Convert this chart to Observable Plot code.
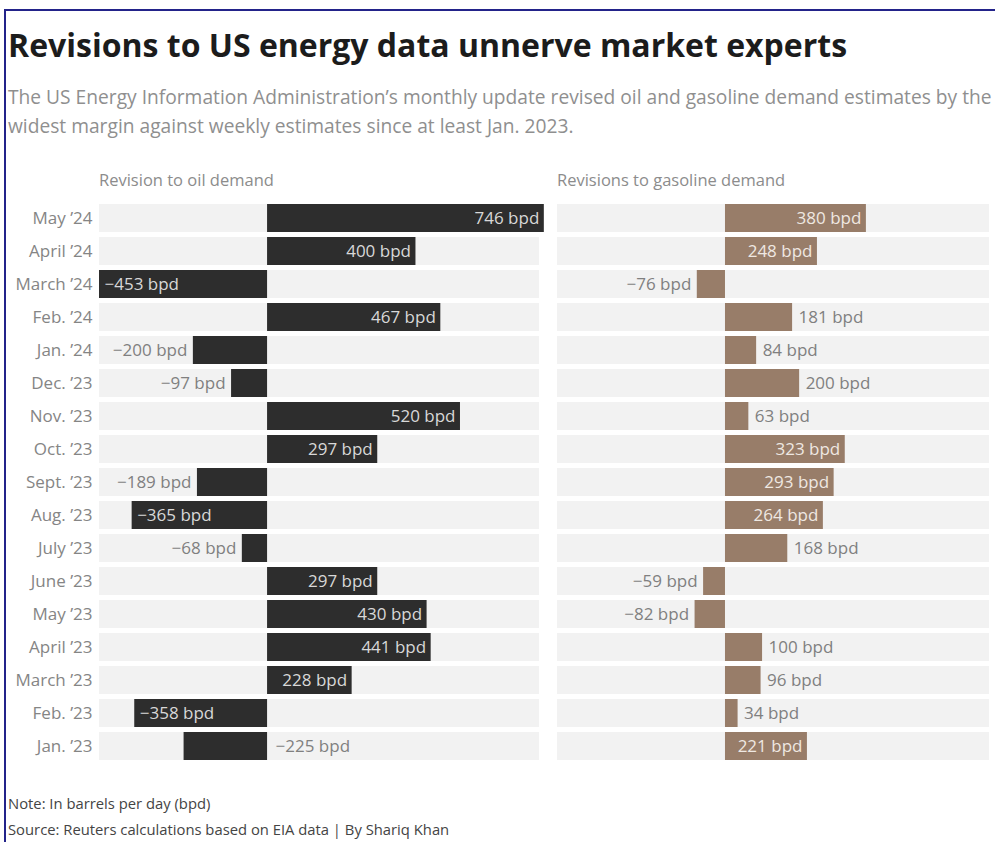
<!DOCTYPE html>
<html>
<head>
<meta charset="utf-8">
<script src="https://cdn.jsdelivr.net/npm/d3@7"></script>
<script src="https://cdn.jsdelivr.net/npm/@observablehq/plot@0.6"></script>
<style>
  html, body { margin: 0; padding: 0; background: #fff; overflow: hidden; }
  #page { position: relative; width: 995px; height: 842px; font-family: "Open Sans", sans-serif; overflow: hidden; }
  #frame { position: absolute; left: 4px; top: 9px; width: 1000px; height: 900px; border-top: 2px solid #23238a; border-left: 2px solid #23238a; }
  .abs { position: absolute; white-space: nowrap; }
  #title { left: 8px; top: 29px; font-size: 32px; line-height: 32px; font-weight: 700; color: #1c1c1c; }
  #subtitle { left: 8px; top: 82px; font-size: 19.2px; line-height: 29px; color: #8f8f8f; }
  .ptitle { top: 169px; font-size: 16.5px; line-height: 22px; color: #8c8c8c; }
  .foot { left: 8px; font-size: 14.8px; line-height: 20px; color: #444; }
  #left, #right { position: absolute; top: 190px; }
  #left { left: 0; }
  #right { left: 550px; }
</style>
</head>
<body>
<div id="page">
  <div id="frame"></div>
  <div id="title" class="abs">Revisions to US energy data unnerve market experts</div>
  <div id="subtitle" class="abs">The US Energy Information Administration’s monthly update revised oil and gasoline demand estimates by the<br>widest margin against weekly estimates since at least Jan. 2023.</div>
  <div class="abs ptitle" style="left:99px">Revision to oil demand</div>
  <div class="abs ptitle" style="left:557px">Revisions to gasoline demand</div>
  <div id="left"></div>
  <div id="right"></div>
  <div class="abs foot" style="top:793px">Note: In barrels per day (bpd)</div>
  <div class="abs foot" style="top:819px">Source: Reuters calculations based on EIA data | By Shariq Khan</div>
</div>
<script>
const months = ["May ’24", "April ’24", "March ’24", "Feb. ’24", "Jan. ’24", "Dec. ’23", "Nov. ’23", "Oct. ’23", "Sept. ’23", "Aug. ’23", "July ’23", "June ’23", "May ’23", "April ’23", "March ’23", "Feb. ’23", "Jan. ’23"];
const oilRevision = [746, 400, -453, 467, -200, -97, 520, 297, -189, -365, -68, 297, 430, 441, 228, -358, -225];
const gasolineRevision = [380, 248, -76, 181, 84, 200, 63, 323, 293, 264, 168, -59, -82, 100, 96, 34, 221];
const oilLabelRightOfZero = ["Jan. ’23"];

const fmt = v => (v < 0 ? "\u2212" + Math.abs(v) : String(v)) + " bpd";

function panel({values, color, insideColor, domain, width, marginLeft, marginRight, showY, rightOfZero}) {
  const data = months.map((m, i) => ({m, v: values[i]}));
  const special = d => rightOfZero.includes(d.m);
  const inside = d => Math.abs(d.v) > 210 && !special(d);
  const fs = 17;
  const marks = [
    Plot.barX(months, {y: d => d, x1: () => domain[0], x2: () => domain[1], fill: "#f2f2f2"}),
    Plot.barX(data, {y: "m", x1: () => 0, x2: "v", fill: color}),
    Plot.text(data.filter(d => inside(d) && d.v > 0), {y: "m", x: "v", text: d => fmt(d.v), textAnchor: "end", dx: -5, fill: insideColor, fontSize: fs}),
    Plot.text(data.filter(d => inside(d) && d.v < 0), {y: "m", x: "v", text: d => fmt(d.v), textAnchor: "start", dx: 5, fill: insideColor, fontSize: fs}),
    Plot.text(data.filter(d => !inside(d) && !special(d) && d.v > 0), {y: "m", x: "v", text: d => fmt(d.v), textAnchor: "start", dx: 6, fill: "#808080", fontSize: fs}),
    Plot.text(data.filter(d => !inside(d) && !special(d) && d.v < 0), {y: "m", x: "v", text: d => fmt(d.v), textAnchor: "end", dx: -6, fill: "#808080", fontSize: fs}),
    Plot.text(data.filter(d => special(d)), {y: "m", x: () => 0, text: d => fmt(d.v), textAnchor: "start", dx: 8, fill: "#808080", fontSize: fs})
  ];
  if (showY) marks.push(Plot.axisY({tickSize: 0, tickPadding: 7, fill: "#858585", fontSize: fs, label: null}));
  return Plot.plot({
    width, height: 585, marginTop: 5, marginBottom: 6, marginLeft, marginRight,
    x: {domain, axis: null},
    y: {domain: months, paddingInner: 0.14, paddingOuter: 0.07, axis: null},
    style: {fontFamily: "Open Sans", fontSize: "17px", background: "transparent"},
    marks
  });
}

document.getElementById("left").append(panel({
  values: oilRevision, color: "#2d2d2d", insideColor: "#d8d8d8",
  domain: [-453, 733], width: 544, marginLeft: 99, marginRight: 5, showY: true,
  rightOfZero: oilLabelRightOfZero
}));
document.getElementById("right").append(panel({
  values: gasolineRevision, color: "#987d69", insideColor: "#efe8e2",
  domain: [-453, 712], width: 445, marginLeft: 7, marginRight: 6, showY: false,
  rightOfZero: []
}));
</script>
</body>
</html>
